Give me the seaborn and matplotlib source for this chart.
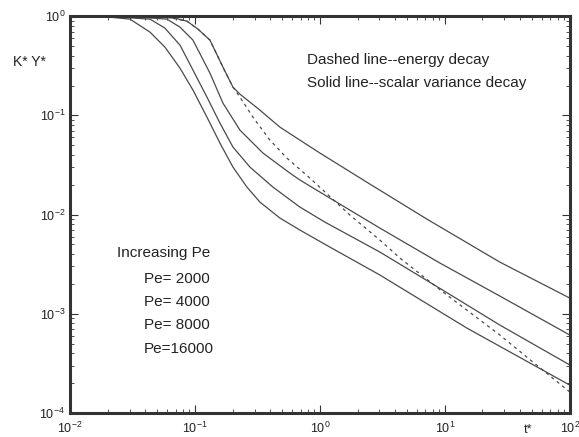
import numpy as np
import pandas as pd
import matplotlib
matplotlib.use("Agg")
import matplotlib.pyplot as plt
import seaborn as sns


# DATA
# solid lines: scalar variance decay, lowest curve first
t_s1 = [0.01, 0.0209, 0.0302, 0.0437, 0.0575, 0.0759, 0.0964, 0.1247, 0.1585,
        0.2014, 0.2606, 0.3311, 0.4786, 0.6918, 1.202, 3.020, 15.0, 100]
y_s1 = [1.0, 0.977, 0.933, 0.690, 0.487, 0.299, 0.1796, 0.0960, 0.0525,
        0.0301, 0.01892, 0.01336, 0.00922, 0.00698, 0.00470, 0.00246,
        0.000718, 0.000191]

t_s2 = [0.01, 0.0251, 0.0437, 0.0575, 0.0759, 0.0964, 0.1247, 0.1585, 0.2014,
        0.2754, 0.4207, 0.6918, 1.096, 3.020, 9.638, 27.54, 100]
y_s2 = [1.0, 0.977, 0.933, 0.757, 0.510, 0.286, 0.1527, 0.0835, 0.0479,
        0.0301, 0.01892, 0.01190, 0.00840, 0.00419, 0.00173, 0.000770,
        0.000305]

t_s3 = [0.01, 0.0363, 0.0597, 0.0759, 0.0964, 0.1318, 0.1675, 0.2291, 0.3499,
        0.5754, 0.6918, 1.202, 3.020, 9.120, 27.54, 100]
y_s3 = [1.0, 0.977, 0.933, 0.775, 0.573, 0.2666, 0.1328, 0.0710, 0.0417,
        0.0262, 0.0223, 0.01466, 0.00731, 0.00325, 0.00151, 0.000611]

t_s4 = [0.01, 0.0525, 0.0692, 0.0863, 0.1057, 0.1318, 0.1675, 0.2014, 0.2291,
        0.2754, 0.3311, 0.4786, 0.6918, 1.0, 2.512, 7.178, 27.54, 100]
y_s4 = [1.0, 0.977, 0.954, 0.890, 0.740, 0.573, 0.306, 0.1926, 0.1637,
        0.1360, 0.1129, 0.0761, 0.0563, 0.0417, 0.0203, 0.00901, 0.00332,
        0.00144]

# dashed line: energy decay
t_energy = [0.01, 0.0575, 0.0863, 0.1057, 0.1318, 0.1675, 0.2014, 0.2291,
            0.2911, 0.3981, 0.5445, 0.8318, 1.057, 1.738, 3.020, 4.365,
            9.638, 27.54, 50.58, 100]
y_energy = [1.0, 0.988, 0.890, 0.740, 0.573, 0.306, 0.1926, 0.1527, 0.0960,
            0.0563, 0.0371, 0.0233, 0.01766, 0.00989, 0.00553, 0.00365,
            0.00166, 0.000611, 0.000327, 0.000163]

pe_labels = ["Pe= 2000", "Pe= 4000", "Pe= 8000", "Pe=16000"]
x_ticks = [1e-2, 1e-1, 1e0, 1e1, 1e2]
x_tick_labels = ["$10^{-2}$", "$10^{-1}$", "$10^{0}$", "$10^{1}$", "$10^{2}$"]
y_ticks = [1e-4, 1e-3, 1e-2, 1e-1, 1e0]
y_tick_labels = ["$10^{-4}$", "$10^{-3}$", "$10^{-2}$", "$10^{-1}$", "$10^{0}$"]


# STYLE
sns.set_style("ticks")
plt.rcParams["font.family"] = ["Liberation Sans", "DejaVu Sans"]
plt.rcParams["mathtext.fontset"] = "custom"
plt.rcParams["mathtext.rm"] = "Liberation Sans"
plt.rcParams["mathtext.it"] = "Liberation Sans:italic"


# FIGURE
fig = plt.figure(figsize=(5.79, 4.37), dpi=100)
ax = fig.add_axes([0.121, 0.055, 0.863, 0.908])

line_color = "#4a4a4a"

for t, y in [(t_s1, y_s1), (t_s2, y_s2), (t_s3, y_s3), (t_s4, y_s4)]:
    sns.lineplot(x=t, y=y, ax=ax, color=line_color, linewidth=0.9,
                 sort=False, estimator=None)

sns.lineplot(x=t_energy, y=y_energy, ax=ax, color=line_color, linewidth=0.9,
             linestyle=(0, (2.5, 3)), sort=False, estimator=None)

ax.set_xscale("log")
ax.set_yscale("log")
ax.set_xlim(1e-2, 1e2)
ax.set_ylim(1e-4, 1e0)

ax.set_xticks(x_ticks)
ax.set_xticklabels(x_tick_labels, fontsize=9)
ax.set_yticks(y_ticks)
ax.set_yticklabels(y_tick_labels, fontsize=9)

ax.tick_params(which="both", direction="in", top=True, right=True,
               color="#333333", labelcolor="#222222")
ax.tick_params(axis="x", which="major", pad=6)
ax.tick_params(which="major", length=6, width=0.8)
ax.tick_params(which="minor", length=3, width=0.6)

for spine in ax.spines.values():
    spine.set_linewidth(2.2)
    spine.set_color("#333333")

ax.set_xlabel("")
ax.set_ylabel("")
fig.text(0.022, 0.858, "K* Y*", fontsize=10, color="#222222", va="center")
fig.text(0.905, 0.016, "t*", fontsize=9, color="#222222", va="center")


# ANNOTATIONS
fig.text(0.530, 0.863, "Dashed line--energy decay", fontsize=11,
         color="#222222", va="center")
fig.text(0.530, 0.810, "Solid line--scalar variance decay", fontsize=11,
         color="#222222", va="center")

fig.text(0.202, 0.421, "Increasing Pe", fontsize=11, color="#222222",
         va="center")
pe_y = [0.362, 0.309, 0.256, 0.201]
for label, yy in zip(pe_labels, pe_y):
    fig.text(0.249, yy, label, fontsize=11, color="#222222", va="center")

fig.savefig("out.png", dpi=100)
